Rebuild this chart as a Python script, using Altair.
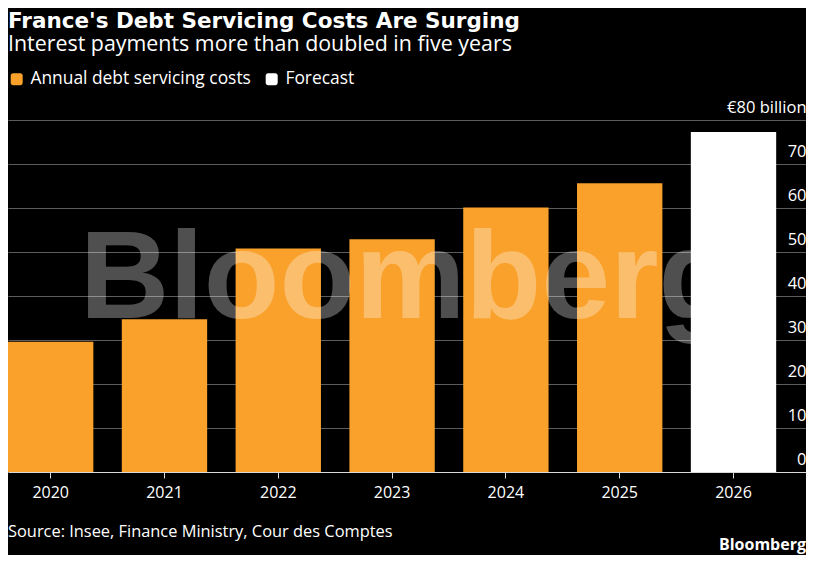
import altair as alt
import pandas as pd

# ---- data ----
years = ["2020", "2021", "2022", "2023", "2024", "2025", "2026"]
costs = [29.6, 34.7, 50.8, 52.9, 60.1, 65.6, 77.3]
series = ["Annual debt servicing costs"] * 6 + ["Forecast"]
series_names = ["Annual debt servicing costs", "Forecast"]
series_colors = ["#F9A12B", "#FFFFFF"]
y_ticks = [0, 10, 20, 30, 40, 50, 60, 70, 80]

title_text = "France's Debt Servicing Costs Are Surging"
subtitle_text = "Interest payments more than doubled in five years"
source_text = ["Source: Insee, Finance Ministry, Cour des Comptes"]
brand_text = ["Bloomberg"]

FONT = "Open Sans"
BOLD_FONT = "DejaVu Sans"
W, H = 798, 352

df = pd.DataFrame({"year": years, "cost": costs, "series": series})

rounded = ("M -0.6 -1 H 0.6 A 0.4 0.4 0 0 1 1 -0.6 V 0.6 A 0.4 0.4 0 0 1 0.6 1 "
           "H -0.6 A 0.4 0.4 0 0 1 -1 0.6 V -0.6 A 0.4 0.4 0 0 1 -0.6 -1 Z")

bars = alt.Chart(df).mark_bar().encode(
    x=alt.X(
        "year:N", sort=years,
        scale=alt.Scale(paddingInner=0.25, paddingOuter=0.131, align=0),
        axis=alt.Axis(title=None, labelAngle=0, domain=True, domainColor="#d9d9d9",
                      domainWidth=1, ticks=True, tickSize=6, tickColor="#d9d9d9",
                      labelColor="#ffffff", labelFont=FONT, labelFontSize=16,
                      labelPadding=6, grid=False),
    ),
    y=alt.Y(
        "cost:Q",
        scale=alt.Scale(domain=[0, 80], nice=False),
        axis=alt.Axis(orient="right", title=None, values=y_ticks, domain=False,
                      ticks=False, tickSize=0, labelPadding=0, labelAlign="right",
                      labelBaseline="alphabetic", labelOffset=-8,
                      labelColor="#ffffff", labelFont=FONT, labelFontSize=16.5,
                      grid=True, gridColor="#5c5c5c", gridWidth=1,
                      labelExpr="datum.value == 80 ? '€80 billion' : datum.label"),
    ),
    color=alt.Color(
        "series:N",
        scale=alt.Scale(domain=series_names, range=series_colors),
        legend=alt.Legend(title=None, orient="none", legendX=0, legendY=-50,
                          direction="horizontal", symbolType=rounded, symbolSize=144,
                          symbolStrokeWidth=0, labelColor="#ffffff", labelFont=FONT,
                          labelFontSize=17.4, labelOffset=5, columnPadding=12,
                          labelLimit=400),
    ),
)

watermark = alt.Chart(pd.DataFrame({"t": brand_text})).mark_text(
    font="Liberation Sans", fontWeight="bold", fontSize=124, color="#ffffff",
    opacity=0.31, align="center", baseline="alphabetic"
).encode(text="t:N", x=alt.value(399), y=alt.value(198))

source = alt.Chart(pd.DataFrame({"t": source_text})).mark_text(
    font=FONT, fontSize=16.4, color="#ffffff", align="left", baseline="alphabetic"
).encode(text="t:N", x=alt.value(0), y=alt.value(417))

brand = alt.Chart(pd.DataFrame({"t": brand_text})).mark_text(
    font=FONT, fontSize=16, fontWeight="bold", color="#ffffff", align="right",
    baseline="alphabetic"
).encode(text="t:N", x=alt.value(W), y=alt.value(430))

chart = alt.layer(bars, watermark, source, brand).properties(
    width=W,
    height=H,
    title=alt.TitleParams(
        text=title_text, subtitle=subtitle_text, anchor="start", frame="group",
        orient="top", offset=15, color="#ffffff", subtitleColor="#ffffff",
        font=BOLD_FONT, fontSize=21.5, fontWeight="bold", subtitleFont=FONT,
        subtitleFontSize=21.4, subtitlePadding=1,
    ),
    padding={"left": 0, "top": 112, "right": 0, "bottom": 83},
    autosize=alt.AutoSizeParams(type="none"),
    background="#000000",
).configure_view(stroke=None)

chart.save("out.html", embed_options={"renderer": "svg", "actions": False})
